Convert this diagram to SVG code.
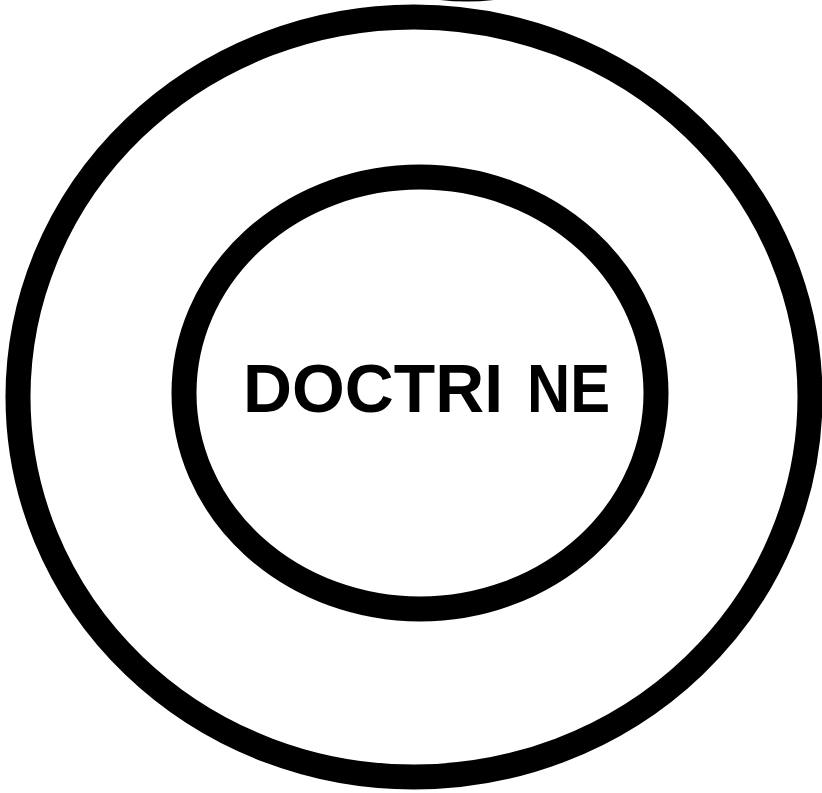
<svg xmlns="http://www.w3.org/2000/svg" width="822" height="793" viewBox="0 0 822 793">
<style>
.ring{fill:none;stroke:#000;stroke-width:25}
.lbl{font-family:"Liberation Sans",Arial,sans-serif;font-weight:bold;font-size:68px;fill:#000}
</style>
<rect width="822" height="793" fill="#fff"/>
<g id="top-arc"><path d="M440,0 Q466,3 494,0 Z" fill="#000"/></g>
<g id="outer"><ellipse class="ring" cx="414" cy="397" rx="396" ry="380"/></g>
<g id="inner"><ellipse class="ring" cx="420" cy="393" rx="236" ry="216"/></g>
<g id="label"><text class="lbl" y="412"><tspan x="243" textLength="260" lengthAdjust="spacingAndGlyphs">DOCTRI</tspan><tspan x="527" textLength="83" lengthAdjust="spacingAndGlyphs">NE</tspan></text></g>
</svg>
